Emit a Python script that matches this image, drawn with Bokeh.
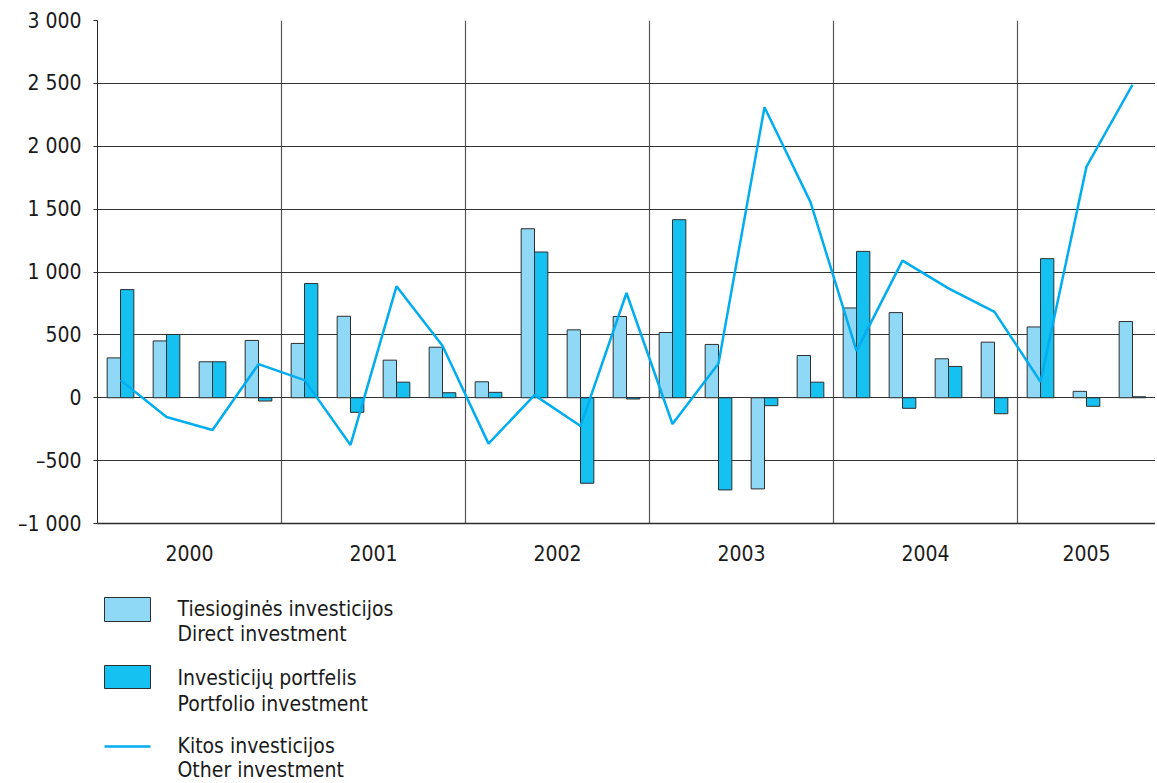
from bokeh.plotting import figure
from bokeh.models import FixedTicker, Range1d, ColumnDataSource
from bokeh.layouts import column
from bokeh.core.properties import value
from bokeh.embed import file_html
from bokeh.resources import INLINE

FONT = "DejaVu Sans Condensed"

years = ["2000", "2001", "2002", "2003", "2004", "2005"]
year_centers = [1.5, 5.5, 9.5, 13.5, 17.5, 21.0]
year_bounds = [3.5, 7.5, 11.5, 15.5, 19.5]

direct = [317, 452, 286, 456, 432, 648, 299, 402, 127, 1344, 540, 646,
          519, 424, -725, 336, 714, 677, 310, 442, 563, 51, 606]
portfolio = [860, 503, 286, -26, 908, -116, 124, 40, 43, 1159, -680, -10,
             1416, -733, -63, 124, 1164, -84, 249, -127, 1106, -68, 8]
other = [140, -153, -256, 267, 140, -375, 886, 413, -365, 21, -225, 833,
         -209, 273, 2310, 1556, 373, 1090, 870, 683, 127, 1838, 2489]

y_ticks = [-1000, -500, 0, 500, 1000, 1500, 2000, 2500, 3000]
y_labels = ["\u20131 000", "\u2013500", "0", "500", "1 000", "1 500", "2 000", "2 500", "3 000"]

legend_labels = [("Tiesiogin\u0117s investicijos", "Direct investment"),
                 ("Investicij\u0173 portfelis", "Portfolio investment"),
                 ("Kitos investicijos", "Other investment")]

C_DIRECT = "#8fd8f6"
C_PORT = "#14c1f1"
C_LINE = "#00adee"
C_EDGE = "#2e2e2e"

n = len(direct)
idx = list(range(n))
bw = 0.29
src = ColumnDataSource(dict(
    x=idx,
    xd=[i - bw / 2 for i in idx],
    xp=[i + bw / 2 for i in idx],
    direct=direct, portfolio=portfolio, other=other))

W = 1155
H1 = 572
LEFT = 97
p = figure(width=W, height=H1, output_backend="svg", toolbar_location=None,
           x_range=Range1d(-0.5, -0.5 + (W - LEFT) / 46.0), y_range=Range1d(-1000, 3000),
           min_border_left=LEFT, min_border_right=0, min_border_top=20,
           min_border_bottom=H1 - 20 - 503)
p.outline_line_color = None
p.background_fill_color = "white"

p.vbar(x="xd", top="direct", bottom=0, width=bw, source=src,
       fill_color=C_DIRECT, line_color=C_EDGE, line_width=1)
p.vbar(x="xp", top="portfolio", bottom=0, width=bw, source=src,
       fill_color=C_PORT, line_color=C_EDGE, line_width=1)
p.line(x="x", y="other", source=src, line_color=C_LINE, line_width=2.5)

# y axis
p.yaxis.ticker = FixedTicker(ticks=y_ticks)
p.yaxis.major_label_overrides = {t: l for t, l in zip(y_ticks, y_labels)}
p.yaxis.major_label_text_font = FONT
p.yaxis.major_label_text_font_size = "21px"
p.yaxis.major_label_text_color = "#1a1a1a"
p.yaxis.major_tick_out = 4
p.yaxis.major_tick_in = 0
p.yaxis.minor_tick_line_color = None
p.yaxis.major_label_standoff = 12
p.yaxis.axis_line_color = "#2a2a2a"
p.yaxis.major_tick_line_color = "#2a2a2a"

# x axis
p.xaxis.ticker = FixedTicker(ticks=year_centers)
p.xaxis.major_label_overrides = {t: l for t, l in zip(year_centers, years)}
p.xaxis.major_label_text_font = FONT
p.xaxis.major_label_text_font_size = "21px"
p.xaxis.major_label_text_color = "#1a1a1a"
p.xaxis.major_tick_line_color = None
p.xaxis.minor_tick_line_color = None
p.xaxis.major_label_standoff = 15
p.xaxis.axis_line_color = "#2a2a2a"
p.xaxis.axis_line_width = 1.5

# grids
p.ygrid.ticker = FixedTicker(ticks=y_ticks)
p.ygrid.grid_line_color = "#333333"
p.ygrid.grid_line_width = 1.2
p.xgrid.ticker = FixedTicker(ticks=year_bounds)
p.xgrid.grid_line_color = "#555555"
p.xgrid.grid_line_width = 1.2

# legend panel (frame aligned with main frame: pixel coordinates LEFT..W)
H2 = 781 - H1
lg = figure(width=W, height=H2, output_backend="svg", toolbar_location=None,
            x_range=Range1d(LEFT, W), y_range=Range1d(H2, 0),
            x_axis_type=None, y_axis_type=None,
            min_border_left=LEFT, min_border_right=0, min_border_top=0, min_border_bottom=0)
lg.outline_line_color = None
lg.xgrid.visible = False
lg.ygrid.visible = False
off = H1
lg.quad(left=[104], right=[150], top=[597 - off], bottom=[621 - off],
        fill_color=C_DIRECT, line_color=C_EDGE, line_width=1)
lg.quad(left=[104], right=[150], top=[665 - off], bottom=[688 - off],
        fill_color=C_PORT, line_color=C_EDGE, line_width=1)
lg.line(x=[104, 150], y=[746 - off, 746 - off], line_color=C_LINE, line_width=2.5)
ty = [(608, 633), (677, 703), (745, 769)]
for (l1, l2), (y1, y2) in zip(legend_labels, ty):
    lg.text(x=[177, 177], y=[y1 - off, y2 - off], text=[l1, l2],
            text_font=value(FONT), text_font_size="21px", text_color="#1a1a1a",
            text_baseline="middle", text_align="left")

layout = column(p, lg, spacing=0)
open("out.html", "w").write(file_html(layout, INLINE))
